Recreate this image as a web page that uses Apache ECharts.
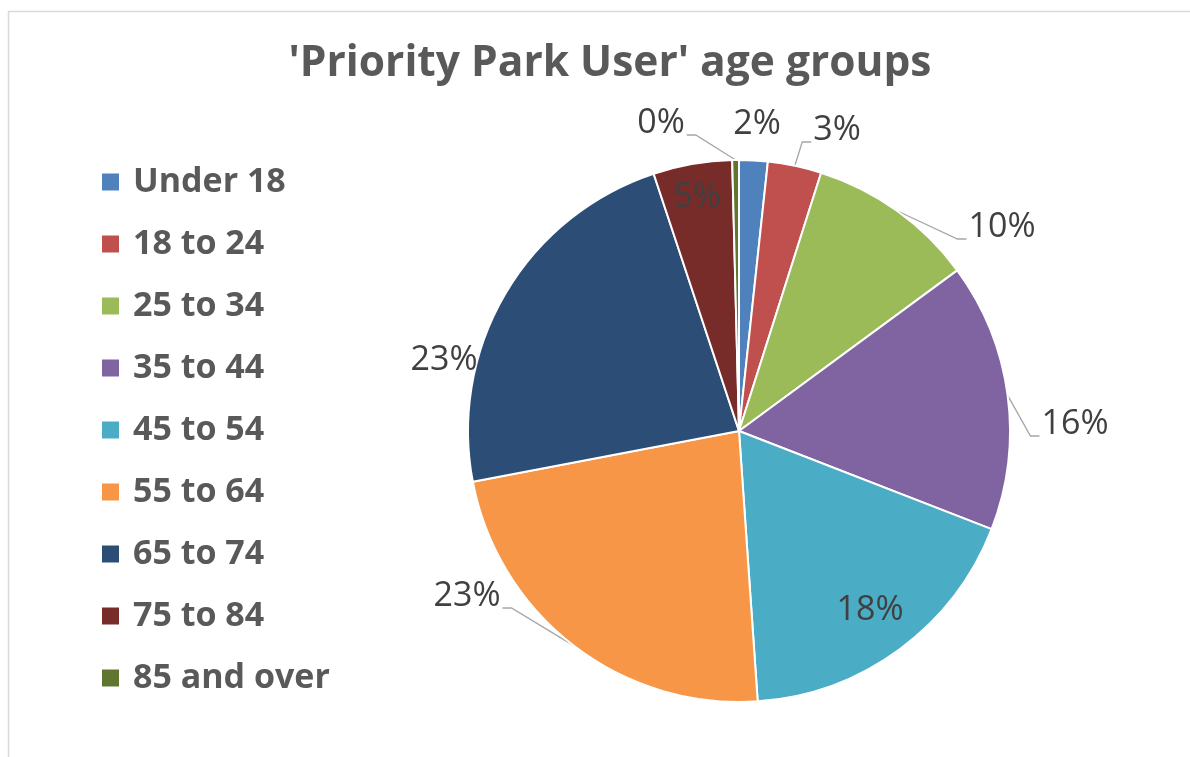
<!DOCTYPE html>
<html>
<head>
<meta charset="utf-8">
<script src="https://cdn.jsdelivr.net/npm/echarts@6/dist/echarts.min.js"></script>
<style>html,body{margin:0;padding:0;background:#fff}#c{width:1190px;height:757px}</style>
</head>
<body>
<div id="c"></div>
<script>
const titleText = "'Priority Park User' age groups";
const categories = ['Under 18', '18 to 24', '25 to 34', '35 to 44', '45 to 54', '55 to 64', '65 to 74', '75 to 84', '85 and over'];
const values = [1.7, 3.2, 10.0, 16.0, 18.0, 23.1, 22.9, 4.7, 0.4];
const colors = ['#4F81BD', '#C0504D', '#9BBB59', '#8064A2', '#4BACC6', '#F79646', '#2C4D75', '#772C2A', '#5F7530'];

// Label placement (offset of label centre from pie centre, and whether a leader line is drawn)
const PIE_CX = 739, PIE_CY = 431, PIE_R = 271;
const labelPlacement = [
  {dx: 18, dy: -307, line: false},          // Under 18
  {dx: 98, dy: -301, line: true, side: 'left'},   // 18 to 24
  {dx: 263, dy: -204, line: true, side: 'left'},  // 25 to 34
  {dx: 336, dy: -7, line: true, side: 'left'},    // 35 to 44
  {dx: 131, dy: 179, line: false},          // 45 to 54
  {dx: -272, dy: 165, line: true, side: 'right'}, // 55 to 64
  {dx: -295, dy: -71, line: false},         // 65 to 74
  {dx: -42, dy: -234, line: false},         // 75 to 84
  {dx: -78, dy: -308, line: true, side: 'right'}  // 85 and over
];

const total = values.reduce((a, b) => a + b, 0);
const chart = echarts.init(document.getElementById('c'), null, {renderer: 'canvas'});
const data = categories.map((name, i) => ({
  name: name, value: values[i], itemStyle: {color: colors[i]},
  labelLine: {show: labelPlacement[i].line}
}));

chart.setOption({
  animation: false,
  backgroundColor: '#ffffff',
  title: {
    text: titleText,
    left: 605, top: 37, textAlign: 'center',
    textStyle: {fontFamily: 'Open Sans', fontWeight: 'bold', fontSize: 42.5, color: '#595959'}
  },
  legend: {
    orient: 'vertical', left: 95, top: 160, height: 600,
    itemWidth: 19, itemHeight: 19, itemGap: 28,
    icon: 'rect',
    data: categories,
    textStyle: {fontFamily: 'Open Sans', fontWeight: 'bold', fontSize: 34, color: '#595959', padding: [0,0,0,8]}
  },
  graphic: [{
    type: 'rect', shape: {x: 8.5, y: 11.5, width: 1300, height: 900},
    style: {fill: 'none', stroke: '#d9d9d9', lineWidth: 1.5}, silent: true
  }],
  series: [{
    type: 'pie',
    center: [PIE_CX, PIE_CY], radius: PIE_R,
    startAngle: 90, clockwise: true,
    avoidLabelOverlap: false,
    itemStyle: {borderColor: '#ffffff', borderWidth: 2},
    label: {
      show: true, position: 'outside',
      formatter: p => Math.round(p.value / total * 100) + '%',
      fontFamily: 'Open Sans', fontSize: 34, color: '#404040'
    },
    labelLine: {show: true, length: 15, length2: 10, lineStyle: {color: '#a6a6a6', width: 1.3}},
    labelLayout: function (params) {
      const cfg = labelPlacement[params.dataIndex];
      const x = PIE_CX + cfg.dx, y = PIE_CY + cfg.dy;
      const out = {x: x, y: y, align: 'center', verticalAlign: 'middle'};
      if (cfg.line && params.labelLinePoints) {
        const p0 = params.labelLinePoints[0];
        const w = params.labelRect.width;
        const baseY = y + 12;
        if (cfg.side === 'left') {
          const ex = x - w / 2 - 2;
          out.labelLinePoints = [p0, [ex - 9, baseY], [ex, baseY]];
        } else {
          const ex = x + w / 2 + 2;
          out.labelLinePoints = [p0, [ex + 9, baseY], [ex, baseY]];
        }
      }
      return out;
    },
    data: data
  }]
});
</script>
</body>
</html>
